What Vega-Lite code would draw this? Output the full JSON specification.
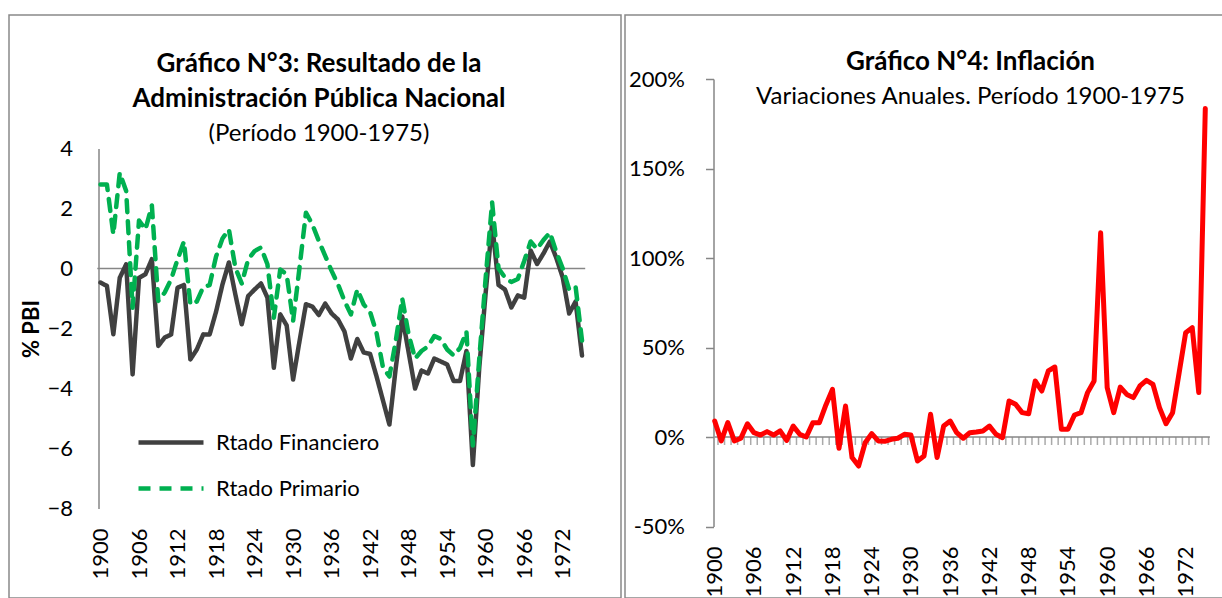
{
  "$schema": "https://vega.github.io/schema/vega-lite/v6.json",
  "padding": {"left": 8, "top": 14, "right": 0, "bottom": 0},
  "background": "white",
  "spacing": 2,
  "config": {
    "font": "Lato",
    "view": {"stroke": "#898989", "strokeWidth": 1.5},
    "axis": {"labelFont": "Lato", "labelColor": "#000000", "titleFont": "Lato", "titleColor": "#000000", "grid": false, "domainColor": "#868686", "domainWidth": 1.5, "tickColor": "#868686", "tickWidth": 1.5},
    "legend": {"labelFont": "Lato", "labelColor": "#000000", "labelLimit": 0},
    "title": {"font": "Lato", "color": "#000000", "subtitleFont": "Lato", "subtitleColor": "#000000"}
  },
  "datasets": {
    "fiscal": [
      {"year":1900,"Rtado Financiero":-0.47,"Rtado Primario":2.8},
      {"year":1901,"Rtado Financiero":-0.58,"Rtado Primario":2.8},
      {"year":1902,"Rtado Financiero":-2.19,"Rtado Primario":1.14},
      {"year":1903,"Rtado Financiero":-0.31,"Rtado Primario":3.19},
      {"year":1904,"Rtado Financiero":0.14,"Rtado Primario":2.58},
      {"year":1905,"Rtado Financiero":-3.53,"Rtado Primario":-1.31},
      {"year":1906,"Rtado Financiero":-0.31,"Rtado Primario":1.6},
      {"year":1907,"Rtado Financiero":-0.19,"Rtado Primario":1.3},
      {"year":1908,"Rtado Financiero":0.31,"Rtado Primario":2.1},
      {"year":1909,"Rtado Financiero":-2.58,"Rtado Primario":-1.08},
      {"year":1910,"Rtado Financiero":-2.3,"Rtado Primario":-0.8},
      {"year":1911,"Rtado Financiero":-2.2,"Rtado Primario":-0.36},
      {"year":1912,"Rtado Financiero":-0.64,"Rtado Primario":0.3},
      {"year":1913,"Rtado Financiero":-0.55,"Rtado Primario":0.9},
      {"year":1914,"Rtado Financiero":-3.03,"Rtado Primario":-1.2},
      {"year":1915,"Rtado Financiero":-2.7,"Rtado Primario":-1.1},
      {"year":1916,"Rtado Financiero":-2.2,"Rtado Primario":-0.62},
      {"year":1917,"Rtado Financiero":-2.2,"Rtado Primario":-0.55},
      {"year":1918,"Rtado Financiero":-1.44,"Rtado Primario":0.4},
      {"year":1919,"Rtado Financiero":-0.53,"Rtado Primario":1.0},
      {"year":1920,"Rtado Financiero":0.2,"Rtado Primario":1.3},
      {"year":1921,"Rtado Financiero":-0.86,"Rtado Primario":0.03},
      {"year":1922,"Rtado Financiero":-1.86,"Rtado Primario":-0.5},
      {"year":1923,"Rtado Financiero":-0.92,"Rtado Primario":0.3},
      {"year":1924,"Rtado Financiero":-0.7,"Rtado Primario":0.58},
      {"year":1925,"Rtado Financiero":-0.5,"Rtado Primario":0.7},
      {"year":1926,"Rtado Financiero":-0.97,"Rtado Primario":0.14},
      {"year":1927,"Rtado Financiero":-3.31,"Rtado Primario":-1.64},
      {"year":1928,"Rtado Financiero":-1.53,"Rtado Primario":-0.03},
      {"year":1929,"Rtado Financiero":-1.9,"Rtado Primario":-0.2},
      {"year":1930,"Rtado Financiero":-3.7,"Rtado Primario":-1.75},
      {"year":1931,"Rtado Financiero":-2.42,"Rtado Primario":0.03},
      {"year":1932,"Rtado Financiero":-1.19,"Rtado Primario":1.86},
      {"year":1933,"Rtado Financiero":-1.27,"Rtado Primario":1.47},
      {"year":1934,"Rtado Financiero":-1.55,"Rtado Primario":0.92},
      {"year":1935,"Rtado Financiero":-1.17,"Rtado Primario":0.42},
      {"year":1936,"Rtado Financiero":-1.5,"Rtado Primario":-0.08},
      {"year":1937,"Rtado Financiero":-1.7,"Rtado Primario":-0.53},
      {"year":1938,"Rtado Financiero":-2.1,"Rtado Primario":-1.08},
      {"year":1939,"Rtado Financiero":-3.0,"Rtado Primario":-1.53},
      {"year":1940,"Rtado Financiero":-2.35,"Rtado Primario":-0.7},
      {"year":1941,"Rtado Financiero":-2.8,"Rtado Primario":-1.2},
      {"year":1942,"Rtado Financiero":-2.85,"Rtado Primario":-1.45},
      {"year":1943,"Rtado Financiero":-3.6,"Rtado Primario":-2.15},
      {"year":1944,"Rtado Financiero":-4.4,"Rtado Primario":-3.3},
      {"year":1945,"Rtado Financiero":-5.2,"Rtado Primario":-3.6},
      {"year":1946,"Rtado Financiero":-3.3,"Rtado Primario":-2.4},
      {"year":1947,"Rtado Financiero":-1.6,"Rtado Primario":-1.0},
      {"year":1948,"Rtado Financiero":-2.8,"Rtado Primario":-2.2},
      {"year":1949,"Rtado Financiero":-4.0,"Rtado Primario":-3.0},
      {"year":1950,"Rtado Financiero":-3.4,"Rtado Primario":-2.75},
      {"year":1951,"Rtado Financiero":-3.5,"Rtado Primario":-2.6},
      {"year":1952,"Rtado Financiero":-3.0,"Rtado Primario":-2.25},
      {"year":1953,"Rtado Financiero":-3.1,"Rtado Primario":-2.35},
      {"year":1954,"Rtado Financiero":-3.2,"Rtado Primario":-2.7},
      {"year":1955,"Rtado Financiero":-3.75,"Rtado Primario":-2.9},
      {"year":1956,"Rtado Financiero":-3.75,"Rtado Primario":-2.65},
      {"year":1957,"Rtado Financiero":-2.75,"Rtado Primario":-2.1},
      {"year":1958,"Rtado Financiero":-6.55,"Rtado Primario":-5.9},
      {"year":1959,"Rtado Financiero":-3.3,"Rtado Primario":-3.0},
      {"year":1960,"Rtado Financiero":-0.8,"Rtado Primario":-0.3},
      {"year":1961,"Rtado Financiero":1.5,"Rtado Primario":2.2},
      {"year":1962,"Rtado Financiero":-0.55,"Rtado Primario":0.0},
      {"year":1963,"Rtado Financiero":-0.7,"Rtado Primario":-0.3},
      {"year":1964,"Rtado Financiero":-1.3,"Rtado Primario":-0.45},
      {"year":1965,"Rtado Financiero":-0.9,"Rtado Primario":-0.35},
      {"year":1966,"Rtado Financiero":-0.97,"Rtado Primario":0.25},
      {"year":1967,"Rtado Financiero":0.6,"Rtado Primario":0.9},
      {"year":1968,"Rtado Financiero":0.15,"Rtado Primario":0.65},
      {"year":1969,"Rtado Financiero":0.5,"Rtado Primario":0.95},
      {"year":1970,"Rtado Financiero":0.9,"Rtado Primario":1.2},
      {"year":1971,"Rtado Financiero":0.35,"Rtado Primario":0.55},
      {"year":1972,"Rtado Financiero":-0.3,"Rtado Primario":0.0},
      {"year":1973,"Rtado Financiero":-1.5,"Rtado Primario":-0.7},
      {"year":1974,"Rtado Financiero":-1.1,"Rtado Primario":-0.6},
      {"year":1975,"Rtado Financiero":-2.9,"Rtado Primario":-2.4}
    ],
    "infl": [
      {"year":1900,"value":8.9},{"year":1901,"value":-2.2},{"year":1902,"value":8.0},{"year":1903,"value":-2.2},
      {"year":1904,"value":-0.7},{"year":1905,"value":7.4},{"year":1906,"value":2.4},{"year":1907,"value":1.1},
      {"year":1908,"value":3.0},{"year":1909,"value":1.1},{"year":1910,"value":3.4},{"year":1911,"value":-1.9},
      {"year":1912,"value":6.1},{"year":1913,"value":1.5},{"year":1914,"value":0.0},{"year":1915,"value":8.0},
      {"year":1916,"value":8.0},{"year":1917,"value":17.9},{"year":1918,"value":26.6},{"year":1919,"value":-6.3},
      {"year":1920,"value":17.3},{"year":1921,"value":-11.5},{"year":1922,"value":-16.2},{"year":1923,"value":-3.2},
      {"year":1924,"value":1.9},{"year":1925,"value":-2.2},{"year":1926,"value":-2.4},{"year":1927,"value":-1.3},
      {"year":1928,"value":-0.7},{"year":1929,"value":1.5},{"year":1930,"value":1.1},{"year":1931,"value":-13.4},
      {"year":1932,"value":-10.6},{"year":1933,"value":12.7},{"year":1934,"value":-11.5},{"year":1935,"value":6.1},
      {"year":1936,"value":8.9},{"year":1937,"value":2.4},{"year":1938,"value":-0.7},{"year":1939,"value":2.4},
      {"year":1940,"value":2.8},{"year":1941,"value":3.4},{"year":1942,"value":6.1},{"year":1943,"value":1.5},
      {"year":1944,"value":-0.4},{"year":1945,"value":20.1},{"year":1946,"value":18.3},{"year":1947,"value":13.6},
      {"year":1948,"value":13.0},{"year":1949,"value":31.3},{"year":1950,"value":25.7},{"year":1951,"value":36.9},
      {"year":1952,"value":39.1},{"year":1953,"value":4.3},{"year":1954,"value":4.3},{"year":1955,"value":12.3},
      {"year":1956,"value":13.6},{"year":1957,"value":24.8},{"year":1958,"value":31.3},{"year":1959,"value":114.1},
      {"year":1960,"value":27.6},{"year":1961,"value":13.6},{"year":1962,"value":27.9},{"year":1963,"value":23.8},
      {"year":1964,"value":22.0},{"year":1965,"value":28.5},{"year":1966,"value":31.7},{"year":1967,"value":29.4},
      {"year":1968,"value":16.4},{"year":1969,"value":7.4},{"year":1970,"value":13.6},{"year":1971,"value":35.9},
      {"year":1972,"value":58.3},{"year":1973,"value":61.1},{"year":1974,"value":24.8},{"year":1975,"value":183.5}
    ]
  },
  "hconcat": [
    {
      "width": 612,
      "height": 583,
      "title": {
        "text": ["Gráfico N°3: Resultado de la", "Administración Pública Nacional"],
        "subtitle": "(Período 1900-1975)",
        "anchor": "middle", "frame": "group", "offset": -131, "dx": 4,
        "fontSize": 26, "fontWeight": "bold", "lineHeight": 35,
        "subtitleFontSize": 24, "subtitleFontWeight": "normal", "subtitlePadding": 10
      },
      "layer": [
        {
          "data": {"values": [{}]},
          "mark": {"type": "rule", "color": "#868686", "strokeWidth": 1.5},
          "encoding": {
            "x": {"datum": 1899.5, "type": "quantitative",
              "scale": {"domain": [1900, 1975], "range": [91.5, 573], "zero": false, "nice": false},
              "axis": {"orient": "bottom", "offset": -70, "values": [1900,1906,1912,1918,1924,1930,1936,1942,1948,1954,1960,1966,1972], "format": "d", "labelAngle": -90, "labelFontSize": 22, "labelPadding": 0, "ticks": false, "domain": false, "title": null}},
            "x2": {"datum": 1975.5},
            "y": {"datum": 0, "type": "quantitative",
              "scale": {"domain": [-8, 4], "range": [493.5, 133.5], "zero": false, "nice": false},
              "axis": {"orient": "left", "offset": -89.5, "values": [-8,-6,-4,-2,0,2,4], "labelFontSize": 22, "labelPadding": 26, "ticks": false, "title": "% PBI", "titleFontSize": 22, "titleFontWeight": "bold", "titlePadding": 3}}
          }
        },
        {
          "data": {"name": "fiscal"},
          "transform": [{"fold": ["Rtado Financiero", "Rtado Primario"], "as": ["serie", "value"]}],
          "mark": {"type": "line", "strokeWidth": 4.5, "strokeCap": "round", "strokeJoin": "round"},
          "encoding": {
            "x": {"field": "year", "type": "quantitative",
              "scale": {"domain": [1900, 1975], "range": [91.5, 573], "zero": false, "nice": false},
              "axis": {"orient": "bottom", "offset": -70, "values": [1900,1906,1912,1918,1924,1930,1936,1942,1948,1954,1960,1966,1972], "format": "d", "labelAngle": -90, "labelFontSize": 22, "labelPadding": 0, "ticks": false, "domain": false, "title": null}},
            "y": {"field": "value", "type": "quantitative",
              "scale": {"domain": [-8, 4], "range": [493.5, 133.5], "zero": false, "nice": false},
              "axis": {"orient": "left", "offset": -89.5, "values": [-8,-6,-4,-2,0,2,4], "labelFontSize": 22, "labelPadding": 26, "ticks": false, "title": "% PBI", "titleFontSize": 22, "titleFontWeight": "bold", "titlePadding": 3}},
            "color": {"field": "serie", "type": "nominal",
              "scale": {"domain": ["Rtado Financiero", "Rtado Primario"], "range": ["#404040", "#00B050"]},
              "legend": {"title": null, "orient": "none", "legendX": 127, "legendY": 392.5, "symbolType": "stroke", "symbolSize": 4225, "symbolStrokeWidth": 4.5, "labelFontSize": 22, "labelLimit": 0, "labelOffset": 10, "rowPadding": -2, "padding": 0}},
            "strokeDash": {"field": "serie", "type": "nominal",
              "scale": {"domain": ["Rtado Financiero", "Rtado Primario"], "range": [[1, 0], [12, 9]]},
              "legend": {"title": null, "orient": "none", "legendX": 127, "legendY": 392.5, "symbolType": "stroke", "symbolSize": 4225, "symbolStrokeWidth": 4.5, "labelFontSize": 22, "labelLimit": 0, "labelOffset": 10, "rowPadding": -2, "padding": 0}}
          }
        }
      ]
    },
    {
      "width": 599,
      "height": 583,
      "title": {
        "text": "Gráfico N°4: Inflación",
        "subtitle": "Variaciones Anuales. Período 1900-1975",
        "anchor": "middle", "frame": "group", "offset": -94, "dx": 46,
        "fontSize": 26, "fontWeight": "bold",
        "subtitleFontSize": 24, "subtitleFontWeight": "normal", "subtitlePadding": 10
      },
      "layer": [
        {
          "data": {"values": [{}]},
          "mark": {"type": "rule", "color": "#868686", "strokeWidth": 1.5},
          "encoding": {
            "x": {"datum": 1900, "type": "quantitative",
              "scale": {"domain": [1900, 1975], "range": [89.7, 580.3], "zero": false, "nice": false},
              "axis": {"orient": "bottom", "offset": -52, "values": [1900,1906,1912,1918,1924,1930,1936,1942,1948,1954,1960,1966,1972], "format": "d", "labelAngle": -90, "labelFontSize": 22, "labelPadding": 0, "ticks": false, "domain": false, "title": null}},
            "x2": {"datum": 1975.7},
            "y": {"datum": 0, "type": "quantitative",
              "scale": {"domain": [-50, 200], "range": [511.5, 64], "zero": false, "nice": false},
              "axis": {"orient": "left", "offset": -88.5, "values": [-50,0,50,100,150,200], "labelExpr": "datum.value + '%'", "labelFontSize": 22, "labelPadding": 21, "tickSize": 8, "title": null}}
          }
        },
        {
          "data": {"name": "infl"},
          "mark": {"type": "tick", "orient": "vertical", "color": "#868686", "size": 8, "thickness": 1.5, "xOffset": 3.3, "yOffset": 4},
          "encoding": {
            "x": {"field": "year", "type": "quantitative",
              "scale": {"domain": [1900, 1975], "range": [89.7, 580.3], "zero": false, "nice": false},
              "axis": {"orient": "bottom", "offset": -52, "values": [1900,1906,1912,1918,1924,1930,1936,1942,1948,1954,1960,1966,1972], "format": "d", "labelAngle": -90, "labelFontSize": 22, "labelPadding": 0, "ticks": false, "domain": false, "title": null}},
            "y": {"datum": 0, "type": "quantitative",
              "scale": {"domain": [-50, 200], "range": [511.5, 64], "zero": false, "nice": false},
              "axis": {"orient": "left", "offset": -88.5, "values": [-50,0,50,100,150,200], "labelExpr": "datum.value + '%'", "labelFontSize": 22, "labelPadding": 21, "tickSize": 8, "title": null}}
          }
        },
        {
          "data": {"name": "infl"},
          "mark": {"type": "line", "color": "#FF0000", "strokeWidth": 5, "strokeJoin": "round", "strokeCap": "round"},
          "encoding": {
            "x": {"field": "year", "type": "quantitative",
              "scale": {"domain": [1900, 1975], "range": [89.7, 580.3], "zero": false, "nice": false},
              "axis": {"orient": "bottom", "offset": -52, "values": [1900,1906,1912,1918,1924,1930,1936,1942,1948,1954,1960,1966,1972], "format": "d", "labelAngle": -90, "labelFontSize": 22, "labelPadding": 0, "ticks": false, "domain": false, "title": null}},
            "y": {"field": "value", "type": "quantitative",
              "scale": {"domain": [-50, 200], "range": [511.5, 64], "zero": false, "nice": false},
              "axis": {"orient": "left", "offset": -88.5, "values": [-50,0,50,100,150,200], "labelExpr": "datum.value + '%'", "labelFontSize": 22, "labelPadding": 21, "tickSize": 8, "title": null}}
          }
        }
      ]
    }
  ]
}
